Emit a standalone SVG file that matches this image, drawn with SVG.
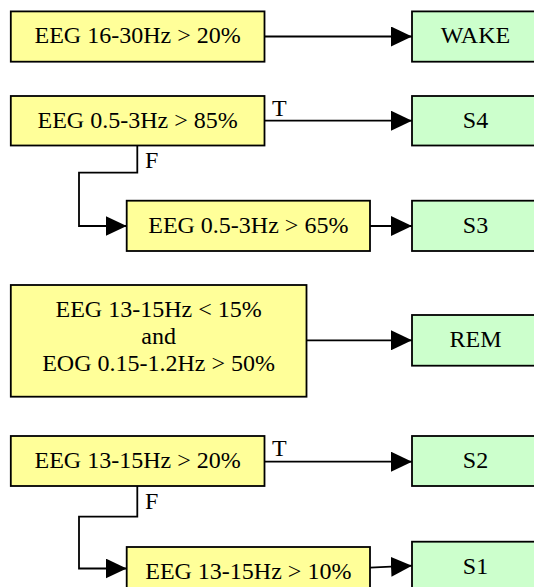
<svg xmlns="http://www.w3.org/2000/svg" width="534" height="587" viewBox="0 0 534 587">
<style>
.c{fill:#ffff99;stroke:#000;stroke-width:1.8}
.s{fill:#ccffcc;stroke:#000;stroke-width:1.8}
text{font-family:"Liberation Serif","Times New Roman",serif;font-size:24px;fill:#000}
.m{text-anchor:middle}
.e{fill:none;stroke:#000;stroke-width:1.8;marker-end:url(#ah)}
</style>
<defs>
<marker id="ah" markerUnits="userSpaceOnUse" markerWidth="21" markerHeight="20" refX="21" refY="10" orient="auto">
<path d="M0,0 L21,10 L0,20 z" fill="#000"/>
</marker>
</defs>
<g id="connectors">
<path class="e" d="M264.5,36.5 H412"/>
<path class="e" d="M264.5,120.7 H412"/>
<path class="e" d="M137.3,145.7 V172.7 H79 V226 H126.7"/>
<path class="e" d="M370,226 H412"/>
<path class="e" d="M306.5,340.3 H412"/>
<path class="e" d="M264.5,461.7 H412"/>
<path class="e" d="M137.3,486 V516.7 H79 V568.5 H126.7"/>
<path class="e" d="M370,567.7 L412,565.7"/>
<text x="272" y="116">T</text>
<text x="145" y="168.3">F</text>
<text x="272" y="456">T</text>
<text x="145" y="509.3">F</text>
</g>
<g id="c1"><rect class="c" x="10.8" y="11.4" width="253.7" height="50.3"/><text class="m" x="137.6" y="43.3">EEG 16-30Hz &gt; 20%</text></g>
<g id="wake"><rect class="s" x="412" y="11.4" width="127" height="50.3"/><text class="m" x="475.5" y="43.3">WAKE</text></g>
<g id="c2"><rect class="c" x="10.8" y="96" width="253.7" height="49.5"/><text class="m" x="137.6" y="128">EEG 0.5-3Hz &gt; 85%</text></g>
<g id="s4"><rect class="s" x="412" y="96" width="127" height="49.5"/><text class="m" x="475.5" y="128">S4</text></g>
<g id="c3"><rect class="c" x="126.7" y="200.7" width="243.3" height="50.3"/><text class="m" x="248.3" y="233.3">EEG 0.5-3Hz &gt; 65%</text></g>
<g id="s3"><rect class="s" x="412" y="200.7" width="127" height="50.3"/><text class="m" x="475.5" y="233.3">S3</text></g>
<g id="c4"><rect class="c" x="10.8" y="285" width="295.7" height="111.7"/>
<text class="m" x="158.6" y="317.3">EEG 13-15Hz &lt; 15%</text>
<text class="m" x="158.6" y="344.3">and</text>
<text class="m" x="158.6" y="371.3">EOG 0.15-1.2Hz &gt; 50%</text></g>
<g id="rem"><rect class="s" x="412" y="315" width="127" height="50.7"/><text class="m" x="475.5" y="347.3">REM</text></g>
<g id="c5"><rect class="c" x="10.8" y="436" width="253.7" height="50"/><text class="m" x="137.6" y="468.3">EEG 13-15Hz &gt; 20%</text></g>
<g id="s2"><rect class="s" x="412" y="436" width="127" height="50"/><text class="m" x="475.5" y="468.3">S2</text></g>
<g id="c6"><rect class="c" x="126.7" y="547" width="243.3" height="50.3"/><text class="m" x="248.3" y="579.3">EEG 13-15Hz &gt; 10%</text></g>
<g id="s1"><rect class="s" x="412" y="541.7" width="127" height="50.3"/><text class="m" x="475.5" y="574">S1</text></g>
</svg>
